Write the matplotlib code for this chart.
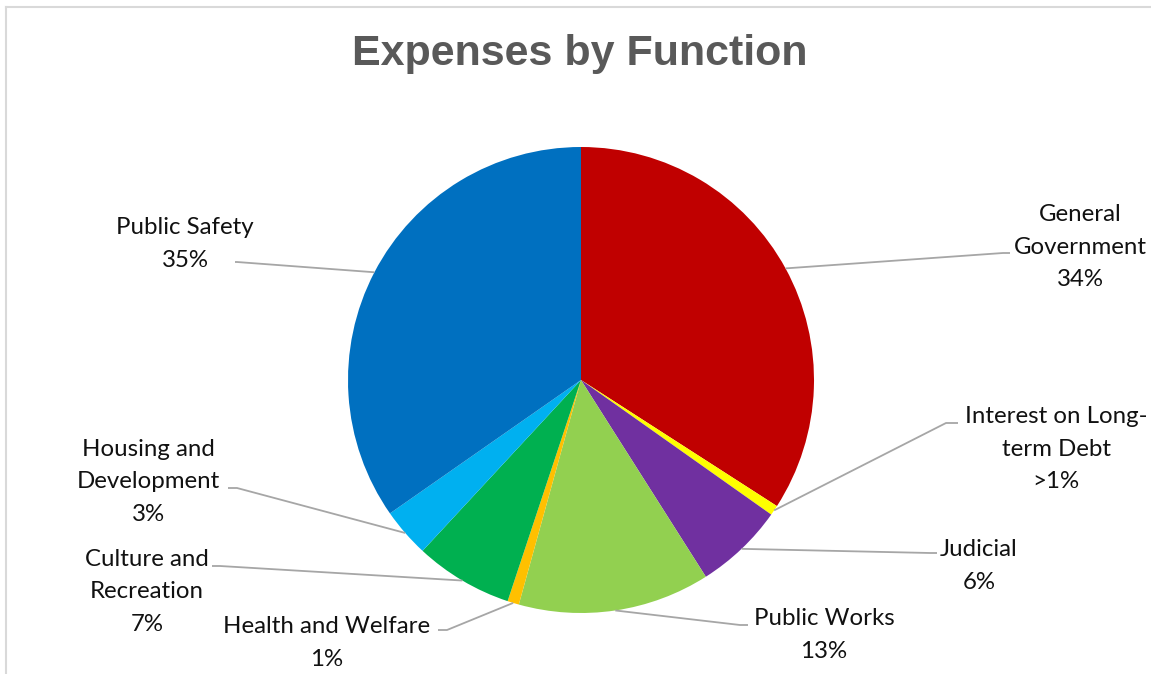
import numpy as np
import matplotlib
matplotlib.use("Agg")
import matplotlib.pyplot as plt

W, H = 1151, 674

# slice data, clockwise from 12 o'clock
categories = ["General\nGovernment", "Interest on Long-\nterm Debt", "Judicial",
              "Public Works", "Health and Welfare", "Culture and\nRecreation",
              "Housing and\nDevelopment", "Public Safety"]
shares = [34.1, 0.7, 6.2, 13.3, 0.8, 6.8, 3.4, 34.7]
pct_labels = ["34%", ">1%", "6%", "13%", "1%", "7%", "3%", "35%"]
colors = ["#C00000", "#FFFF00", "#7030A0", "#92D050", "#FFC000",
          "#00B050", "#00B0F0", "#0070C0"]

# label centre, line attach point and elbow (pixels from top-left)
label_xy = [(1080, 247), (1056, 449), (979, 566), (824, 635),
            (327, 643), (147, 592), (148, 482), (185, 244)]
attach_xy = [(1010, 253), (958, 423), (937, 553), (748, 625),
             (438, 630), (212, 566), (228, 488), (235, 262)]
elbow_xy = [(1003, 253), (946, 423), (930, 553), (740, 625),
            (447, 630), (220, 566), (237, 488), (237, 262)]

cx, cy, R = 581, 380, 233

fig = plt.figure(figsize=(W / 100, H / 100), dpi=100)
ax = fig.add_axes([(cx - R) / W, (H - cy - R) / H, 2 * R / W, 2 * R / H])
ax.axis("off")

wedges, _ = ax.pie(shares, colors=colors, startangle=90, counterclock=False,
                   radius=1, wedgeprops=dict(linewidth=0))
ax.set_xlim(-1, 1)
ax.set_ylim(-1, 1)


def to_data(p):
    return ((p[0] - cx) / R, (cy - p[1]) / R)


font = "Lato"
for i, w in enumerate(wedges):
    mid = np.deg2rad((w.theta1 + w.theta2) / 2)
    start = (np.cos(mid), np.sin(mid))
    ex, ey = to_data(elbow_xy[i])
    axx, axy = to_data(attach_xy[i])
    ax.plot([start[0], ex, axx], [start[1], ey, axy], color="#A6A6A6",
            lw=1.3, clip_on=False, solid_capstyle="butt")
    tx, ty = to_data(label_xy[i])
    ax.text(tx, ty, categories[i] + "\n" + pct_labels[i], ha="center",
            va="center", fontsize=17.3, family=font, color="#111111",
            linespacing=1.66, multialignment="center")

fig.text(580 / W, 1 - 54 / H, "Expenses by Function", ha="center", va="center",
         fontsize=31, fontweight="bold", family="Liberation Sans", color="#595959")

# chart frame (top and left edges)
fig.add_artist(plt.Line2D([6 / W, 6 / W], [0, 1 - 7 / H], color="#D9D9D9",
                          lw=1.5, transform=fig.transFigure))
fig.add_artist(plt.Line2D([6 / W, 1], [1 - 7 / H, 1 - 7 / H], color="#D9D9D9",
                          lw=1.5, transform=fig.transFigure))

fig.savefig("out.png", dpi=100)
